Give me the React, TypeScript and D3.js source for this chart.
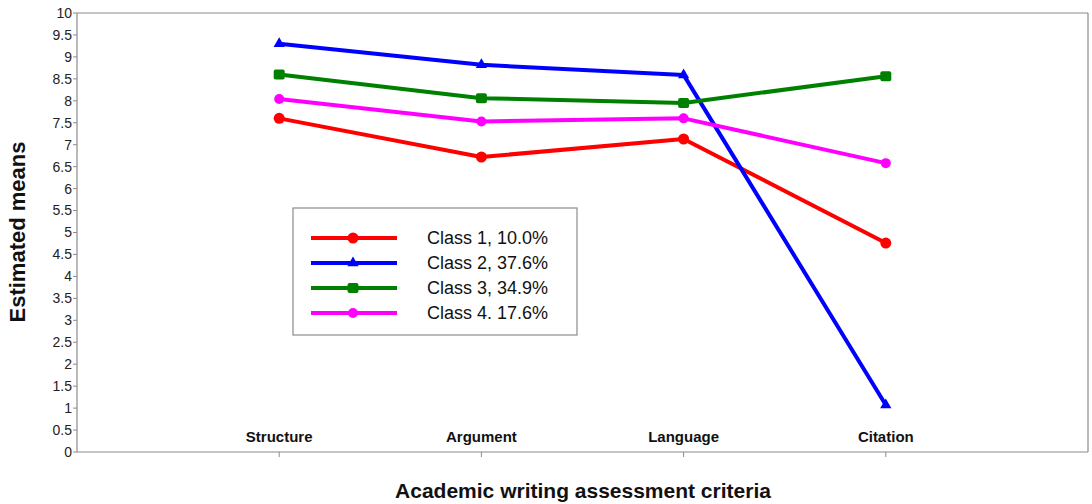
import React from 'react';
import * as d3 from 'd3';

const categories = ['Structure', 'Argument', 'Language', 'Citation'];
const class1 = [7.6, 6.72, 7.13, 4.76];
const class2 = [9.3, 8.82, 8.59, 1.07];
const class3 = [8.6, 8.06, 7.95, 8.56];
const class4 = [8.04, 7.53, 7.6, 6.58];
const seriesNames = ['Class 1, 10.0%', 'Class 2, 37.6%', 'Class 3, 34.9%', 'Class 4. 17.6%'];
const yTicks = d3.range(0, 10.01, 0.5);

const W = 1092;
const H = 504;
const left = 77, right = 1088, top = 13, bottom = 452;

const series = [
  { name: seriesNames[0], values: class1, color: '#ff0000', marker: 'circle' },
  { name: seriesNames[1], values: class2, color: '#0000ff', marker: 'triangle' },
  { name: seriesNames[2], values: class3, color: '#008000', marker: 'square' },
  { name: seriesNames[3], values: class4, color: '#ff00ff', marker: 'smallcircle' },
];

const Marker = ({ type, x, y, color }: { type: string; x: number; y: number; color: string }) => {
  if (type === 'circle') return <circle cx={x} cy={y} r={5.5} fill={color} />;
  if (type === 'smallcircle') return <circle cx={x} cy={y} r={5} fill={color} />;
  if (type === 'square') return <rect x={x - 5.5} y={y - 5} width={11} height={10} rx={2} fill={color} />;
  const p = d3.symbol(d3.symbolTriangle, 55)();
  return <path d={p || ''} transform={`translate(${x},${y})`} fill={color} />;
};

export default function App() {
  const x = d3.scalePoint<string>().domain(categories).range([left, right]).padding(1);
  const y = d3.scaleLinear().domain([0, 10]).range([bottom, top]);
  const line = d3.line<number>()
    .x((_, i) => x(categories[i]) as number)
    .y(d => y(d));

  const axisColor = '#8c8c8c';
  const narrow = '"Liberation Sans Narrow", "Arial Narrow", "Liberation Sans", Arial, sans-serif';
  const sans = '"Liberation Sans", Arial, sans-serif';

  const legend = { x: 293, y: 208, w: 284, h: 127 };

  return (
    <svg width={W} height={H} style={{ position: 'absolute', left: 0, top: 0, background: '#fff' }}>
      {/* frame */}
      <line x1={left} x2={right} y1={top} y2={top} stroke={axisColor} strokeWidth={1.2} />
      <line x1={right} x2={right} y1={top} y2={bottom} stroke={axisColor} strokeWidth={1.2} />
      <line x1={left} x2={left} y1={top} y2={bottom} stroke={axisColor} strokeWidth={1.2} />
      <line x1={left} x2={right} y1={bottom} y2={bottom} stroke={axisColor} strokeWidth={1.2} />

      {/* y ticks */}
      {yTicks.map(t => (
        <g key={t}>
          <line x1={left - 4} x2={left} y1={y(t)} y2={y(t)} stroke={axisColor} strokeWidth={1} />
          <text x={left - 5} y={y(t)} dy="0.35em" textAnchor="end" fontFamily={sans} fontSize={14} fill="#222">
            {d3.format('~g')(t)}
          </text>
        </g>
      ))}

      {/* x ticks + labels */}
      {categories.map(c => (
        <g key={c}>
          <line x1={x(c)} x2={x(c)} y1={bottom} y2={bottom + 5} stroke={axisColor} strokeWidth={1} />
          <text x={x(c)} y={442} textAnchor="middle" fontFamily={narrow} fontWeight="bold" fontSize={15} fill="#111">
            {c}
          </text>
        </g>
      ))}

      {/* series */}
      {series.map(s => (
        <g key={s.name}>
          <path d={line(s.values) || ''} fill="none" stroke={s.color} strokeWidth={4} strokeLinejoin="round" />
          {s.values.map((v, i) => (
            <Marker key={i} type={s.marker} x={x(categories[i]) as number} y={y(v)} color={s.color} />
          ))}
        </g>
      ))}

      {/* legend */}
      <rect x={legend.x} y={legend.y} width={legend.w} height={legend.h} fill="#fff" stroke={axisColor} strokeWidth={1.2} />
      {series.map((s, i) => {
        const ly = 238 + i * 25;
        return (
          <g key={s.name}>
            <line x1={311} x2={397} y1={ly} y2={ly} stroke={s.color} strokeWidth={4} />
            <Marker type={s.marker} x={353} y={ly} color={s.color} />
            <text x={427} y={ly} dy="0.35em" fontFamily={sans} fontSize={18} fill="#111">{s.name}</text>
          </g>
        );
      })}

      {/* axis titles */}
      <text x={583} y={498} textAnchor="middle" fontFamily={narrow} fontWeight="bold" fontSize={21} fill="#111">
        Academic writing assessment criteria
      </text>
      <text transform={`translate(25,232) rotate(-90)`} textAnchor="middle" fontFamily={sans} fontWeight="bold" fontSize={22} fill="#111">
        Estimated means
      </text>
    </svg>
  );
}
